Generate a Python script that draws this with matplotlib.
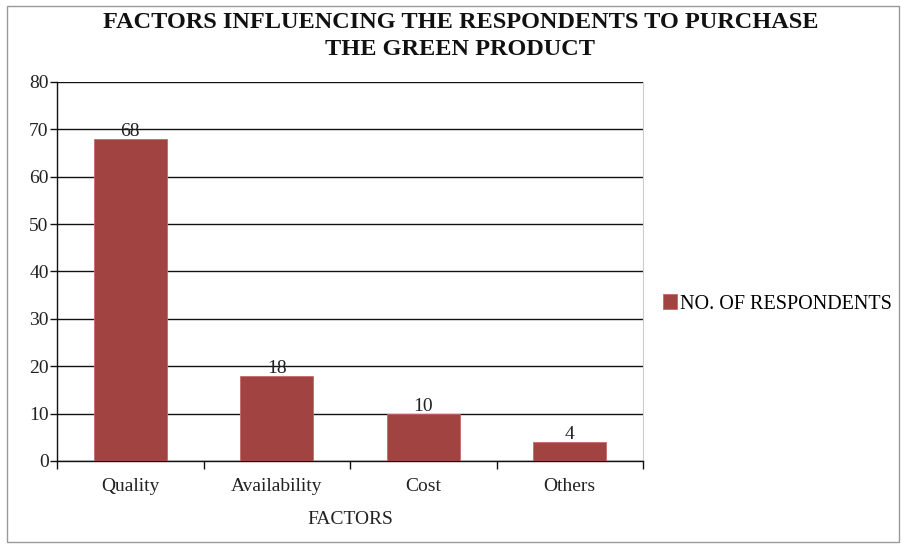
import numpy as np
import matplotlib.pyplot as plt
from matplotlib.patches import Rectangle

# data
factors = ["Quality", "Availability", "Cost", "Others"]
respondents = [68, 18, 10, 4]
series_name = "NO. OF RESPONDENTS"
y_ticks = [0, 10, 20, 30, 40, 50, 60, 70, 80]

plt.rcParams['font.family'] = ['Liberation Serif', 'DejaVu Serif']

bar_color = "#a04341"
txt_color = "#222222"
fs = 14

fig = plt.figure(figsize=(9.01, 5.44), dpi=100)
ax = fig.add_axes([0.0633, 0.1526, 0.6504, 0.6967])

x = np.arange(len(factors))
bars = ax.bar(x, respondents, width=0.5, color=bar_color, edgecolor="#c46a68",
              linewidth=0.6, label=series_name, zorder=3)

# value labels on top of bars
for xi, v in zip(x, respondents):
    ax.text(xi, v - 0.3, str(v), ha="center", va="bottom", fontsize=fs,
            color=txt_color, zorder=4)

ax.set_xlim(-0.5, len(factors) - 0.5)
ax.set_ylim(0, 80)
ax.set_yticks(y_ticks)
ax.set_yticklabels([str(t) for t in y_ticks], fontsize=fs, color=txt_color)
ax.yaxis.grid(True, color="#111111", linewidth=1.0, zorder=1)
ax.tick_params(axis="y", length=5, width=1, color="#111111", pad=1)

# category labels centered, tick marks at category boundaries
ax.set_xticks(x)
ax.set_xticklabels(factors, fontsize=fs, color=txt_color)
ax.tick_params(axis="x", which="major", length=0, pad=12)
ax.set_xticks(np.arange(-0.5, len(factors)), minor=True)
ax.tick_params(axis="x", which="minor", length=6, width=1, color="#111111")

ax.set_xlabel("FACTORS", fontsize=fs, color=txt_color, labelpad=12)

for side in ["left", "bottom"]:
    ax.spines[side].set_color("#111111")
    ax.spines[side].set_linewidth(1.0)
ax.spines["top"].set_visible(False)
ax.spines["right"].set_color("#cccccc")
ax.spines["right"].set_linewidth(0.8)

fig.text(0.511, 0.978, "FACTORS INFLUENCING THE RESPONDENTS TO PURCHASE\nTHE GREEN PRODUCT",
         ha="center", va="top", fontsize=17.5, fontweight="bold", linespacing=1.4,
         color="#111111")

ax.legend(loc="center left", bbox_to_anchor=(1.034, 0.414), frameon=False,
          fontsize=14.5, handlelength=0.72, handleheight=0.72, handletextpad=0.15,
          borderaxespad=0, borderpad=0)

# outer frame around the chart
fig.patches.append(Rectangle((0.008, 0.004), 0.99, 0.985, transform=fig.transFigure,
                             fill=False, edgecolor="#999999", linewidth=1.0))

fig.savefig("out.png", dpi=100)
